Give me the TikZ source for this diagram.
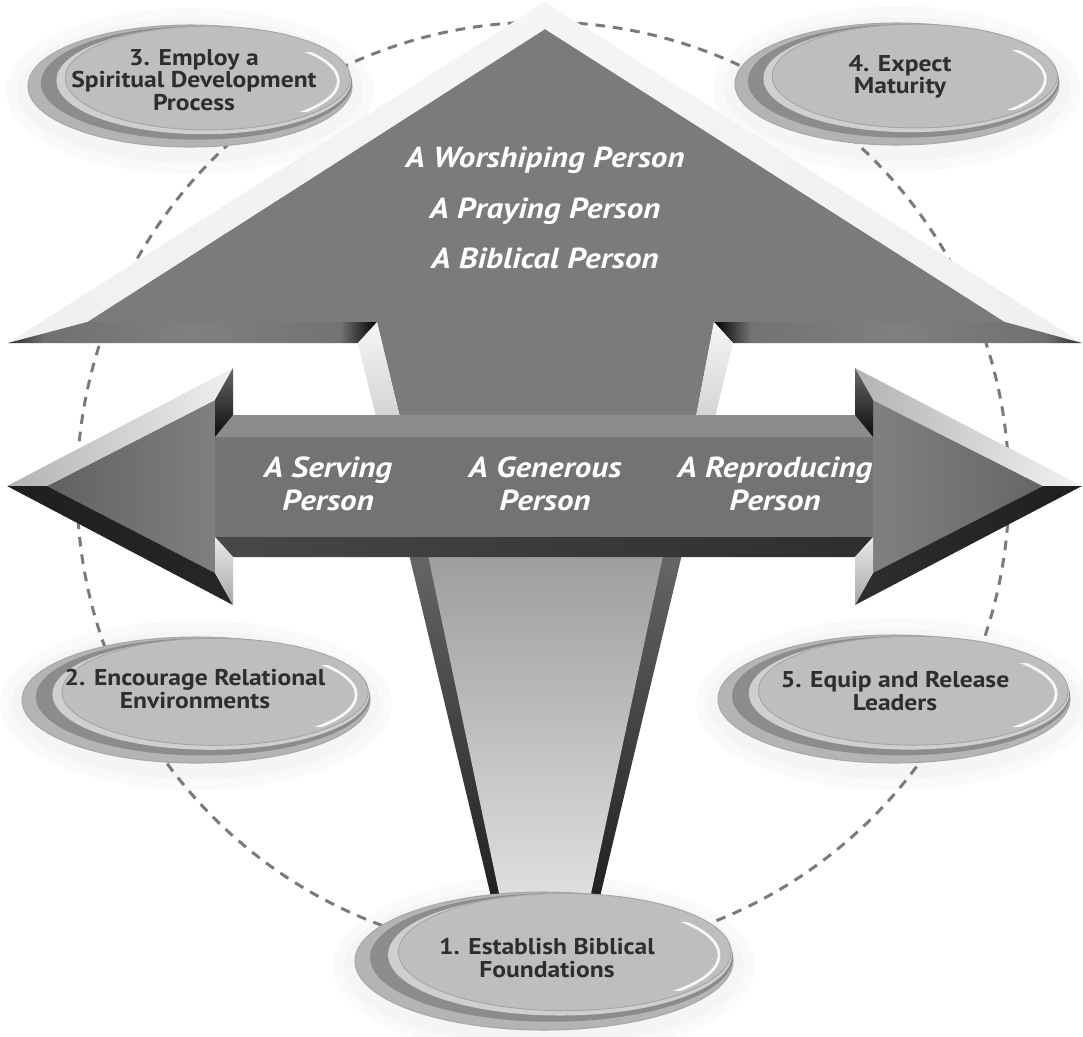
\documentclass[tikz,border=0pt]{standalone}
\usepackage{fontspec}
\setmainfont{PT Sans}
\newfontfamily\wfont{PT Sans}[FakeStretch=1.14]
\newfontfamily\bfont{PT Sans}[FakeStretch=1.12]
\definecolor{facegray}{HTML}{7B7B7B}
\definecolor{circgray}{HTML}{7A7A7A}
\definecolor{bubrim}{HTML}{B4B4B4}
\definecolor{bubedge}{HTML}{A8A8A8}
\definecolor{bubdark}{HTML}{8C8C8C}
\definecolor{bublight}{HTML}{CFCFCF}
\definecolor{bubface}{HTML}{BEBEBE}
\definecolor{bubline}{HTML}{A4A4A4}
\definecolor{bubtxt}{HTML}{2E2E2E}
\pgfdeclarehorizontalshading{bandL}{100bp}{color(0bp)=(black!82); color(25bp)=(black!82); color(30bp)=(black!56); color(50bp)=(black!50); color(70bp)=(black!55); color(75bp)=(black); color(100bp)=(black)}
\pgfdeclarehorizontalshading{bandR}{100bp}{color(0bp)=(black); color(25bp)=(black); color(30bp)=(black!55); color(50bp)=(black!50); color(70bp)=(black!56); color(75bp)=(black!82); color(100bp)=(black!82)}
\newcommand{\bubblehalo}[4]{%
  \foreach \kk in {22,11}{%
    \fill[black,opacity=0.018] (#1,#2+5) ellipse [x radius=#3+\kk, y radius=#4+\kk];
  }%
}
\newcommand{\bubbleshape}[4]{%
  \pgfmathsetmacro{\bfx}{#1+0.11*#3}%
  \pgfmathsetmacro{\bfy}{#2-0.13*#4}%
  \pgfmathsetmacro{\bfrx}{0.88*#3}%
  \pgfmathsetmacro{\bfry}{0.85*#4}%
  \filldraw[fill=bubrim, draw=bubedge, line width=0.6pt] (#1,#2) ellipse [x radius=#3, y radius=#4];
  \fill[bubdark] (#1+0.04*#3,#2-0.05*#4) ellipse [x radius=0.96*#3, y radius=0.93*#4];
  \fill[bublight] (#1+0.085*#3,#2-0.09*#4) ellipse [x radius=0.91*#3, y radius=0.88*#4];
  \filldraw[fill=bubface, draw=bubline, line width=0.5pt] (\bfx,\bfy) ellipse [x radius=\bfrx, y radius=\bfry];
  \begin{scope}
    \clip (\bfx,\bfy) ellipse [x radius=\bfrx, y radius=\bfry];
    \clip (\bfx+0.55*\bfrx,\bfy-0.5*\bfry) rectangle (\bfx+1.1*\bfrx,\bfy+0.65*\bfry);
    \draw[white, line width=1.5pt, opacity=0.9] (\bfx-10,\bfy+3) ellipse [x radius=\bfrx-2, y radius=\bfry-5];
  \end{scope}
}
\begin{document}
\begin{tikzpicture}[x=0.02cm,y=-0.02cm,
  circ/.style={circgray, line width=1.7pt, dash pattern=on 5.5pt off 4.5pt},
  wtext/.style={text=white, font=\wfont\fontsize{16.5}{18.8}\selectfont\bfseries\itshape, align=center, inner sep=0pt},
  btext/.style={text=bubtxt, font=\bfont\fontsize{13}{12.8}\selectfont\bfseries, align=center, inner sep=0pt},
]
\useasboundingbox (0,0) rectangle (1083,1036);
\fill[white] (0,0) rectangle (1083,1036);

% halos of the bubbles
\bubblehalo{190}{86}{162}{61}
\bubblehalo{897}{84}{162}{61}
\bubblehalo{196}{700}{174}{63}
\bubblehalo{894}{699}{176}{64}
\bubblehalo{544}{961}{189}{69}

% dashed circle
\draw[circ] (543,488) circle [radius=466];

% ---------- upward arrow ----------
\fill[facegray] (87,322) -- (545,29) -- (1005,322) -- (714,322) -- (691.5,440) -- (405.5,440) -- (377,322) -- cycle;
\shade[left color=black!6, middle color=black!20, right color=black!4] (8,343) -- (545,2) -- (545,29) -- (87,322) -- cycle;
\shade[left color=black!4, middle color=black!22, right color=black!6] (545,2) -- (1082,343) -- (1005,322) -- (545,29) -- cycle;
\shade[shading=bandL] (8,343) -- (87,322) -- (377,322) -- (358,343) -- cycle;
\shade[shading=bandR] (733,343) -- (714,322) -- (1005,322) -- (1082,343) -- cycle;
\shade[top color=black!4, bottom color=black!20] (358,343) -- (377,322) -- (405.5,440) -- (381.5,440) -- cycle;
\shade[top color=black!4, bottom color=black!20] (733,343) -- (714,322) -- (691.5,440) -- (709.5,440) -- cycle;
% lower stem
\shade[top color=black!58, bottom color=black!88] (403.2,530) -- (687.8,530) -- (598,905) -- (493,905) -- cycle;
\shade[top color=black!40, bottom color=black!12] (422.7,530) -- (668.4,530) -- (588.6,905) -- (501.5,905) -- cycle;

% ---------- horizontal double arrow ----------
\shade[left color=black!55, middle color=black!28, right color=black!55] (215,437) rectangle (873,537);
\shade[left color=black!45, middle color=black!4, right color=black!45] (233,415) -- (855,415) -- (873,437) -- (215,437) -- cycle;
\shade[left color=black!72, middle color=black!45, right color=black!82] (215,537) -- (873,537) -- (855,557) -- (233,557) -- cycle;
% left head
\shade[left color=black!62, right color=black!50] (47,486) -- (215,400) -- (215,573) -- cycle;
\shade[left color=black!30, right color=black!6] (7,486) -- (233,368) -- (215,400) -- (47,486) -- cycle;
\shade[left color=black!88, middle color=black!55, right color=black!85] (7,486) -- (47,486) -- (215,573) -- (233,605) -- cycle;
\shade[top color=black!60, bottom color=black!95] (233,368) -- (215,400) -- (215,437) -- (233,415) -- cycle;
\shade[top color=black!8, bottom color=black!35] (215,537) -- (233,557) -- (233,605) -- (215,573) -- cycle;
% right head
\shade[left color=black!50, right color=black!60] (1043,486) -- (873,400) -- (873,573) -- cycle;
\shade[left color=black!30, right color=black!5] (1082,486) -- (855,368) -- (873,400) -- (1043,486) -- cycle;
\shade[left color=black!82, middle color=black!55, right color=black!88] (1082,486) -- (1043,486) -- (873,573) -- (855,605) -- cycle;
\shade[top color=black!60, bottom color=black!95] (855,368) -- (873,400) -- (873,437) -- (855,415) -- cycle;
\shade[top color=black!8, bottom color=black!35] (873,537) -- (855,557) -- (855,605) -- (873,573) -- cycle;

% ---------- bubbles ----------
\bubbleshape{190}{86}{162}{61}
\bubbleshape{897}{84}{162}{61}
\bubbleshape{196}{700}{174}{63}
\bubbleshape{894}{699}{176}{64}
\bubbleshape{544}{961}{189}{69}

% ---------- texts ----------
\node[wtext, anchor=base] (w1) at (545,167) {A Worshiping Person};
\node[wtext, anchor=base] (w2) at (545,218) {A Praying Person};
\node[wtext, anchor=base] (w3) at (545,268) {A Biblical Person};
\node[wtext] (h1) at (328,484) {A Serving\\Person};
\node[wtext] (h2) at (545,484) {A Generous\\Person};
\node[wtext] (h3) at (775,484) {A Reproducing\\Person};

\node[btext] (b3) at (194,80) {3. Employ a\\Spiritual Development\\Process};
\node[btext] (b4) at (900,77) {4. Expect\\Maturity};
\node[btext] (b2) at (195,689) {2. Encourage Relational\\Environments};
\node[btext] (b5) at (895,691) {5. Equip and Release\\Leaders};
\node[btext] (b1) at (547,958) {1. Establish Biblical\\Foundations};
\end{tikzpicture}
\end{document}
